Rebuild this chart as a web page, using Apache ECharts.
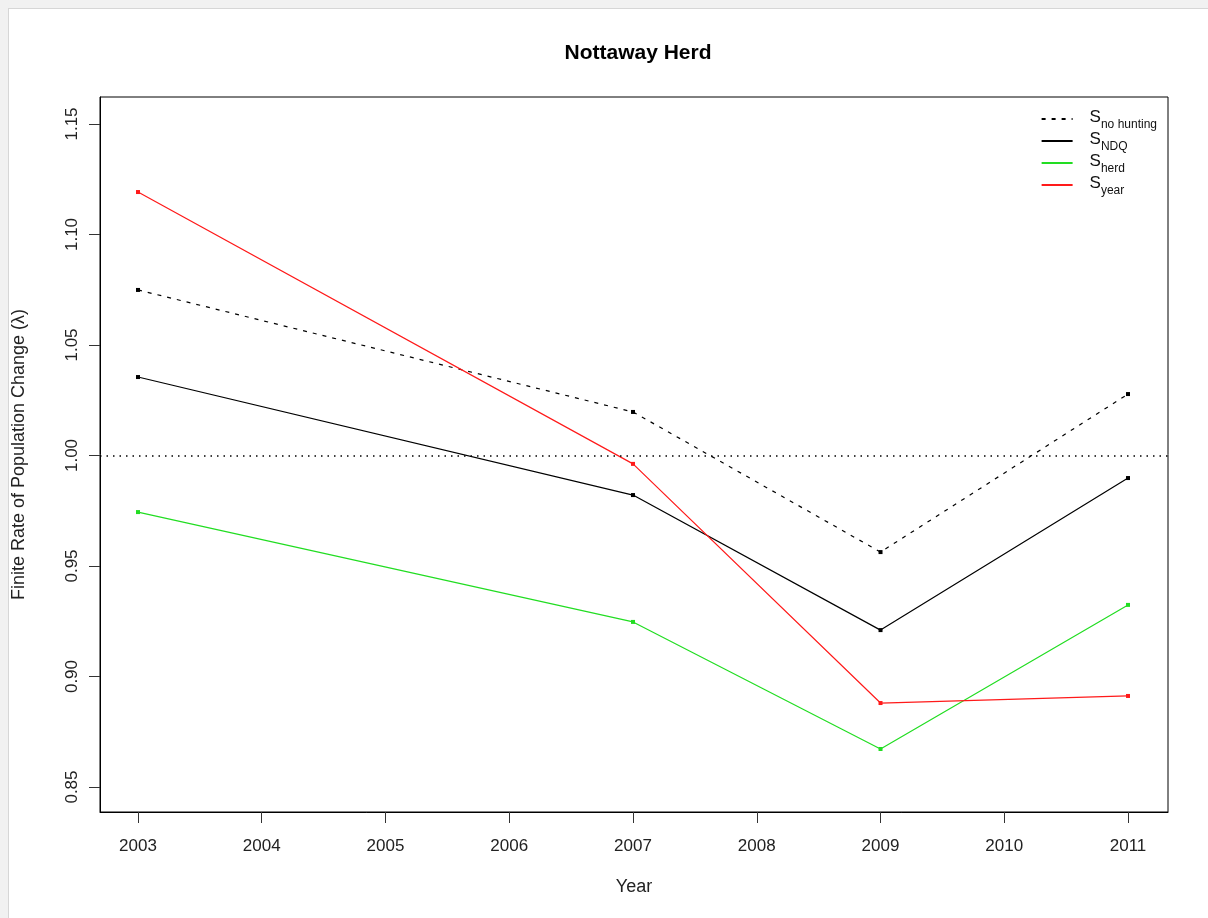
<!DOCTYPE html>
<html>
<head>
<meta charset="utf-8">
<title>Nottaway Herd</title>
<script src="https://cdn.jsdelivr.net/npm/echarts@6/dist/echarts.min.js"></script>
<style>
  html, body { margin: 0; padding: 0; background: #f1f1f1; width: 1208px; height: 918px; overflow: hidden; }
  #sheet { position: absolute; left: 8px; top: 8px; width: 1200px; height: 910px; background: #ffffff;
           border-left: 1px solid #d6d6d6; border-top: 1px solid #d6d6d6; box-sizing: border-box; }
  #chart { position: absolute; left: 0; top: 0; width: 1208px; height: 918px; }
</style>
</head>
<body>
<div id="sheet"></div>
<div id="chart"></div>
<script>
// Survey years and finite rate of population change per survival scenario
const years = [2003, 2007, 2009, 2011];
const noHunting = [1.0749, 1.0197, 0.9563, 1.0278];
const ndq = [1.0355, 0.9821, 0.9210, 0.9898];
const herd = [0.9744, 0.9247, 0.8672, 0.9324];
const yearS = [1.1192, 0.9962, 0.8880, 0.8912];

const xTicks = [2003, 2004, 2005, 2006, 2007, 2008, 2009, 2010, 2011];
const yTicks = [0.85, 0.90, 0.95, 1.00, 1.05, 1.10, 1.15];

const FONT = 'Liberation Sans, Arial, sans-serif';
const pairs = vals => years.map((y, i) => [y, vals[i]]);

const chart = echarts.init(document.getElementById('chart'), null, { renderer: 'canvas' });

const lineSeries = (name, vals, color, dashed) => ({
  name: name,
  type: 'line',
  data: pairs(vals),
  symbol: 'rect',
  symbolSize: 4,
  showSymbol: true,
  itemStyle: { color: color },
  lineStyle: { color: dashed ? '#000' : color, width: 1.2, type: dashed ? [4, 6] : 'solid' },
  emphasis: { disabled: true },
  z: 3
});

const rich = {
  s: { fontFamily: FONT, fontSize: 17, color: '#111', verticalAlign: 'bottom', lineHeight: 14 },
  sub: { fontFamily: FONT, fontSize: 12, color: '#111', verticalAlign: 'bottom', lineHeight: 10, padding: [0, 0, -5, 0] }
};
const subText = { 'no hunting': 'no hunting', 'NDQ': 'NDQ', 'herd': 'herd', 'year': 'year' };

const option = {
  animation: false,
  backgroundColor: 'transparent',
  title: {
    text: 'Nottaway Herd',
    left: 633,
    textAlign: 'center',
    top: 38,
    textStyle: { fontFamily: FONT, fontSize: 21, fontWeight: 'bold', color: '#000' }
  },
  legend: {
    orient: 'vertical',
    right: 46,
    top: 104,
    itemWidth: 31,
    itemHeight: 14,
    itemGap: 0,
    itemStyle: { opacity: 0 },
    selectedMode: false,
    formatter: name => '{s|S}{sub|' + subText[name] + '}',
    textStyle: { rich: rich, padding: [0, 0, 0, 12] },
    data: ['no hunting', 'NDQ', 'herd', 'year']
  },
  grid: {
    left: 100,
    top: 97,
    right: 40,
    bottom: 106,
    outerBoundsMode: 'none',
    containLabel: false,
    show: true,
    borderColor: '#000',
    borderWidth: 1,
    backgroundColor: 'transparent'
  },
  xAxis: {
    type: 'value',
    min: 2002.693,
    max: 2011.323,
    name: 'Year',
    nameLocation: 'middle',
    nameGap: 66,
    nameTextStyle: { fontFamily: FONT, fontSize: 18, color: '#222' },
    axisLine: { show: true, onZero: false, lineStyle: { color: '#000', width: 1 } },
    axisTick: { show: true, length: 11, inside: false, customValues: xTicks, lineStyle: { color: '#333' } },
    axisLabel: { customValues: xTicks, margin: 26, fontFamily: FONT, fontSize: 17, color: '#222',
                 formatter: v => String(Math.round(v)) },
    splitLine: { show: false }
  },
  yAxis: {
    type: 'value',
    min: 0.8387,
    max: 1.1622,
    name: 'Finite Rate of Population Change (\u03bb)',
    nameLocation: 'middle',
    nameGap: 72,
    nameTextStyle: { fontFamily: FONT, fontSize: 18, color: '#222' },
    axisLine: { show: true, onZero: false, lineStyle: { color: '#000', width: 1 } },
    axisTick: { show: true, length: 11, inside: false, customValues: yTicks, lineStyle: { color: '#333' } },
    axisLabel: { customValues: yTicks, rotate: 90, margin: 19, fontFamily: FONT, fontSize: 17, color: '#222',
                 formatter: v => v.toFixed(2) },
    splitLine: { show: false }
  },
  series: [
    Object.assign(lineSeries('no hunting', noHunting, '#000', true), {
      markLine: {
        silent: true,
        symbol: ['none', 'none'],
        label: { show: false },
        lineStyle: { color: '#000', width: 1.5, type: [1.5, 5] },
        data: [{ yAxis: 1.0 }]
      }
    }),
    lineSeries('NDQ', ndq, '#000', false),
    lineSeries('herd', herd, '#22dd22', false),
    lineSeries('year', yearS, '#ff1a1a', false)
  ]
};

chart.setOption(option);
</script>
</body>
</html>
